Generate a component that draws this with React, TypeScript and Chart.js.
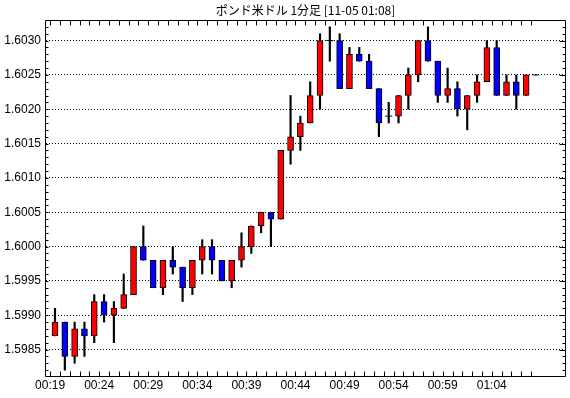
import React, { useEffect, useRef } from "react";
import { Chart, registerables } from "chart.js";

Chart.register(...registerables);

const titleText = "ポンド米ドル 1分足 [11-05 01:08]";

const opens = [
  1.5987, 1.5989, 1.5984, 1.5988, 1.5987, 1.5992, 1.599, 1.5991, 1.5993, 1.6,
  1.5998, 1.5994, 1.5998, 1.5997, 1.5994, 1.5998, 1.6, 1.5998, 1.5995, 1.5998,
  1.6, 1.6003, 1.6005, 1.6004, 1.6014, 1.6016, 1.6018, 1.6022, 1.603, 1.603,
  1.6023, 1.6028, 1.6027, 1.6023, 1.6019, 1.6019, 1.6022, 1.6025, 1.603, 1.6027,
  1.6022, 1.6023, 1.602, 1.6022, 1.6024, 1.6029, 1.6022, 1.6024, 1.6022, 1.6025,
];
const highs = [
  1.5991, 1.5989, 1.5989, 1.5989, 1.5993, 1.5993, 1.5992, 1.5996, 1.6, 1.6003,
  1.5998, 1.5998, 1.6, 1.5997, 1.5998, 1.6001, 1.6001, 1.5998, 1.5998, 1.6002,
  1.6003, 1.6005, 1.6005, 1.6014, 1.6022, 1.6019, 1.6024, 1.6031, 1.6032, 1.6031,
  1.6029, 1.6029, 1.6028, 1.6023, 1.6021, 1.6022, 1.6026, 1.603, 1.6032, 1.6027,
  1.6026, 1.6024, 1.6022, 1.6025, 1.603, 1.603, 1.6025, 1.6025, 1.6025, 1.6025,
];
const lows = [
  1.5987, 1.5982, 1.5983, 1.5984, 1.5986, 1.5989, 1.5986, 1.5991, 1.5993, 1.5998,
  1.5994, 1.5993, 1.5996, 1.5992, 1.5993, 1.5996, 1.5996, 1.5995, 1.5994, 1.5997,
  1.5999, 1.6002, 1.6, 1.6004, 1.6012, 1.6014, 1.6018, 1.602, 1.6027, 1.6023,
  1.6023, 1.6027, 1.6023, 1.6016, 1.6018, 1.6018, 1.602, 1.6024, 1.6027, 1.6021,
  1.6021, 1.6019, 1.6017, 1.6021, 1.6024, 1.6022, 1.6022, 1.602, 1.6022, 1.6025,
];
const closes = [
  1.5989, 1.5984, 1.5988, 1.5987, 1.5992, 1.599, 1.5991, 1.5993, 1.6, 1.5998,
  1.5994, 1.5998, 1.5997, 1.5994, 1.5998, 1.6, 1.5998, 1.5995, 1.5998, 1.6,
  1.6003, 1.6005, 1.6004, 1.6014, 1.6016, 1.6018, 1.6022, 1.603, 1.603, 1.6023,
  1.6028, 1.6027, 1.6023, 1.6018, 1.6019, 1.6022, 1.6025, 1.603, 1.6027, 1.6022,
  1.6023, 1.602, 1.6022, 1.6024, 1.6029, 1.6022, 1.6024, 1.6022, 1.6025, 1.6025,
];

const xTickLabels = ["00:19", "00:24", "00:29", "00:34", "00:39", "00:44", "00:49", "00:54", "00:59", "01:04"];
const yTickValues = [1.5985, 1.599, 1.5995, 1.6, 1.6005, 1.601, 1.6015, 1.602, 1.6025, 1.603];

const X_MIN = -0.917;
const X_MAX = 51.96;
const Y_MIN = 1.5981;
const Y_MAX = 1.6033;

const UP = "#FF0000";
const DOWN = "#0000FF";
const LABEL_FONT = '"Liberation Sans", Arial, sans-serif';

const idx = opens.map((_, i) => i);
const bodyIdx = idx.filter((i) => opens[i] !== closes[i]);
const bodyData = bodyIdx.map((i) => ({ x: i, y: [opens[i], closes[i]] }));
const bodyColors = bodyIdx.map((i) => (closes[i] > opens[i] ? UP : DOWN));
const dojiData = idx.filter((i) => opens[i] === closes[i]).map((i) => ({ x: i, y: opens[i] }));
const wickData = idx.map((i) => ({ x: i, y: [lows[i], highs[i]] }));

const framePlugin = {
  id: "frame",
  afterDatasetsDraw(chart: any) {
    const { ctx, chartArea, scales } = chart;
    const { left, right, top, bottom } = chartArea;
    const x = scales.x;
    const y = scales.y;
    const lx = left - 0.5;
    const rx = right + 0.5;
    const ty = top + 0.5;
    const by = bottom - 0.5;
    ctx.save();
    ctx.strokeStyle = "#000";
    ctx.lineWidth = 1;
    ctx.setLineDash([]);
    ctx.beginPath();
    ctx.moveTo(lx, ty);
    ctx.lineTo(rx, ty);
    ctx.lineTo(rx, by);
    ctx.lineTo(lx, by);
    ctx.closePath();
    for (let k = 0; k < opens.length; k++) {
      const px = Math.round(x.getPixelForValue(k - 0.5)) + 0.5;
      ctx.moveTo(px, ty);
      ctx.lineTo(px, ty + 5);
      ctx.moveTo(px, by);
      ctx.lineTo(px, by - 5);
    }
    const p0 = Math.ceil(Y_MIN * 10000 - 1e-6);
    const p1 = Math.floor(Y_MAX * 10000 + 1e-6);
    for (let p = p0; p <= p1; p++) {
      const py = Math.round(y.getPixelForValue(p / 10000)) + 0.5;
      if (py < ty + 1 || py > by - 1) continue;
      const major = p % 5 === 0;
      ctx.moveTo(lx, py);
      ctx.lineTo(lx + 3, py);
      ctx.moveTo(rx, py);
      ctx.lineTo(rx - (major ? 6 : 3), py);
    }
    ctx.stroke();
    ctx.restore();
  },
};

export default function App() {
  const ref = useRef<HTMLCanvasElement | null>(null);
  useEffect(() => {
    document.body.style.margin = "0";
    const canvas = ref.current;
    if (!canvas) return;
    const chart = new Chart(canvas, {
      type: "bar",
      data: {
        datasets: [
          {
            type: "bar",
            label: "body",
            data: bodyData as any,
            backgroundColor: bodyColors,
            borderColor: "#000",
            borderWidth: 1,
            borderSkipped: false,
            barThickness: 6,
            grouped: false,
            order: 0,
          } as any,
          {
            type: "scatter",
            label: "doji",
            data: dojiData as any,
            pointStyle: "line",
            pointRadius: 3.5,
            pointHoverRadius: 3.5,
            pointBorderColor: "#000",
            pointBorderWidth: 1,
            showLine: false,
            order: 1,
          } as any,
          {
            type: "bar",
            label: "wick",
            data: wickData as any,
            backgroundColor: "#000",
            borderWidth: 0,
            barThickness: 1.5,
            grouped: false,
            order: 2,
          } as any,
        ],
      },
      options: {
        animation: false,
        responsive: false,
        maintainAspectRatio: false,
        events: [],
        layout: { padding: { left: 0, right: 5, top: 0, bottom: 0 } },
        plugins: {
          legend: { display: false },
          tooltip: { enabled: false },
          title: {
            display: true,
            text: titleText,
            fullSize: false,
            color: "#000",
            font: { family: '"Noto Sans CJK JP", sans-serif', size: 12, weight: "normal", lineHeight: "14px" },
            padding: { top: 3, bottom: 3 },
          },
        },
        scales: {
          x: {
            type: "linear",
            min: X_MIN,
            max: X_MAX,
            offset: false,
            grid: { display: false, drawTicks: false },
            border: { display: false },
            ticks: {
              autoSkip: false,
              maxRotation: 0,
              minRotation: 0,
              padding: 1,
              color: "#000",
              font: { family: LABEL_FONT, size: 12 },
              callback: (_v: any, i: number) => xTickLabels[i],
            },
            afterBuildTicks: (s: any) => {
              s.ticks = xTickLabels.map((_, k) => ({ value: k * 5 - 0.5 }));
            },
            afterFit: (s: any) => {
              s.height = 21;
            },
          },
          y: {
            type: "linear",
            min: Y_MIN,
            max: Y_MAX,
            grid: { color: "#000", lineWidth: 1, drawTicks: false, tickLength: 0 },
            border: { display: false, dash: [1, 2] },
            ticks: {
              padding: 5,
              color: "#000",
              font: { family: LABEL_FONT, size: 12 },
              callback: (v: any) => Number(v).toFixed(4),
            },
            afterBuildTicks: (s: any) => {
              s.ticks = yTickValues.map((v) => ({ value: v }));
            },
            afterFit: (s: any) => {
              s.width = 46;
            },
          },
        },
      } as any,
      plugins: [framePlugin],
    });
    return () => chart.destroy();
  }, []);
  return (
    <div style={{ width: 570, height: 398, background: "#fff" }}>
      <canvas ref={ref} width={570} height={398} style={{ display: "block" }} />
    </div>
  );
}
